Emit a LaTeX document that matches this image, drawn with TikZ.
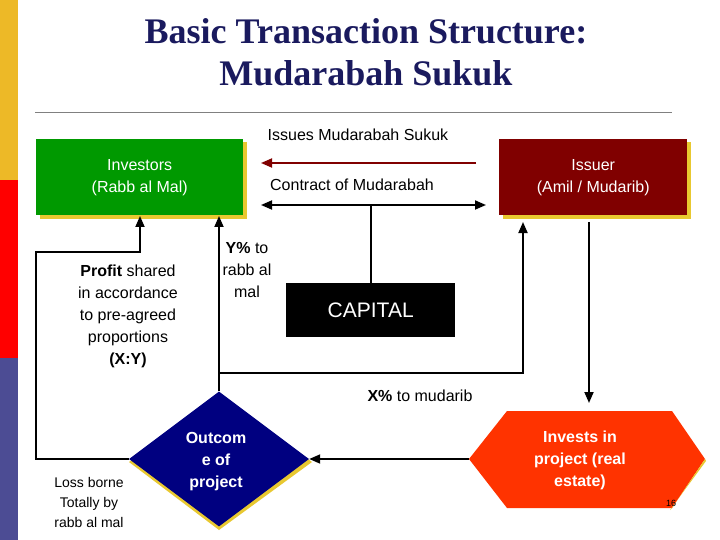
\documentclass[tikz,border=0pt]{standalone}
\usepackage{fontspec}
\setmainfont{Liberation Sans}
\newfontfamily\titlefont{Liberation Serif}
\usetikzlibrary{shapes.geometric,arrows.meta}
\definecolor{grn}{HTML}{009900}
\definecolor{mar}{HTML}{800000}
\definecolor{shd}{HTML}{E8C830}
\definecolor{navy}{HTML}{000080}
\definecolor{hexc}{HTML}{FF3300}
\definecolor{ttl}{HTML}{1A1A5E}
\tikzset{
 lbl/.style={font=\fontsize{16}{22}\selectfont, align=center},
 wlbl/.style={lbl, text=white},
 conn/.style={line width=1.8pt, -{Triangle[length=11pt,width=9pt]}},
 plain/.style={line width=1.8pt},
 shadow/.style={fill=shd, draw=none},
}
\begin{document}
\begin{tikzpicture}[x=1pt,y=-1pt]
\useasboundingbox (0,0) rectangle (720,540);
\fill[white] (0,0) rectangle (720,540);
\fill[shd!80!orange] (0,0) rectangle (18,180);
\fill[red] (0,180) rectangle (18,358);
\fill[black!30!blue!40!gray] (0,358) rectangle (18,540);
% title
\node[font=\titlefont\bfseries\fontsize{36}{42}\selectfont, text=ttl, align=center] (title) at (366,52) {Basic Transaction Structure:\\Mudarabah Sukuk};
\draw[gray, line width=1pt] (35,113) -- (672,113);
% boxes
\fill[shadow] (40,142) rectangle (247,219);
\node[fill=grn, minimum width=207pt, minimum height=76pt, inner sep=0, wlbl, anchor=north west] (inv) at (36,139) {Investors\\(Rabb al Mal)};
\fill[shadow] (503,142) rectangle (691,219);
\node[fill=mar, minimum width=188pt, minimum height=76pt, inner sep=0, wlbl, anchor=north west] (iss) at (499,139) {Issuer\\(Amil / Mudarib)};
\node[fill=black, minimum width=169pt, minimum height=54pt, inner sep=0, anchor=north west, text=white, font=\fontsize{21}{24}\selectfont] (cap) at (286,283) {CAPITAL};
% diamond
\fill[shadow] (219,395) -- (312,462) -- (219,530) -- (129,462) -- cycle;
\node[diamond, fill=navy, minimum width=180pt, minimum height=135pt, inner sep=0, aspect=1.33] (out) at (219,459) {};
\node[wlbl, font=\bfseries\fontsize{16}{22}\selectfont] (outt) at (216,462) {Outcom\\e of\\project};
% hexagon
\coordinate (hex) at (587,459);
\fill[hexc] (507,411) -- (672,411) -- (705,459) -- (672,508) -- (507,508) -- (469,459) -- cycle;
\fill[shd] (705,459) -- (672,508) -- (670,510) -- (706,461) -- cycle;
\node[wlbl, font=\bfseries\fontsize{16}{22}\selectfont] (hext) at (580,460) {Invests in\\project (real\\estate)};
% labels
\node[lbl] (issl) at (358,135) {Issues Mudarabah Sukuk};
\node[lbl] (conl) at (352,185) {Contract of Mudarabah};
\node[lbl] (yl) at (247,270) {\textbf{Y\%} to\\rabb al\\mal};
\node[lbl] (pl) at (128,316) {\textbf{Profit} shared\\in accordance\\to pre-agreed\\proportions\\\textbf{(X:Y)}};
\node[lbl] (xl) at (420,396) {\textbf{X\%} to mudarib};
\node[lbl, font=\fontsize{14}{20}\selectfont] (lossl) at (89,502) {Loss borne\\Totally by\\rabb al mal};
\node[font=\fontsize{9}{10}\selectfont] (pg) at (671,503) {16};
% connectors
\coordinate (ra) at (476,163); \coordinate (rb) at (261,163);
\draw[conn, mar] (ra) -- (rb);
\coordinate (ca) at (261,205); \coordinate (cb) at (486,205);
\draw[conn, {Triangle[length=11pt,width=9pt]}-{Triangle[length=11pt,width=9pt]}] (ca) -- (cb);
\draw[plain] (cap.north -| 371,0) -- (371,205);
\coordinate (lp) at (36,252);
\draw[conn] (out.west) -- (out.west -| lp) -- (lp) -- (140,252) -- (140,216);
\draw[conn] (out.north) -- (219,216);
\coordinate (mr) at (523,373);
\draw[conn] (219,373) -- (mr) -- (523,222);
\draw[conn] (589,222) -- (589,403);
\draw[conn] (469,459) -- (out.east);
\end{tikzpicture}
\end{document}
